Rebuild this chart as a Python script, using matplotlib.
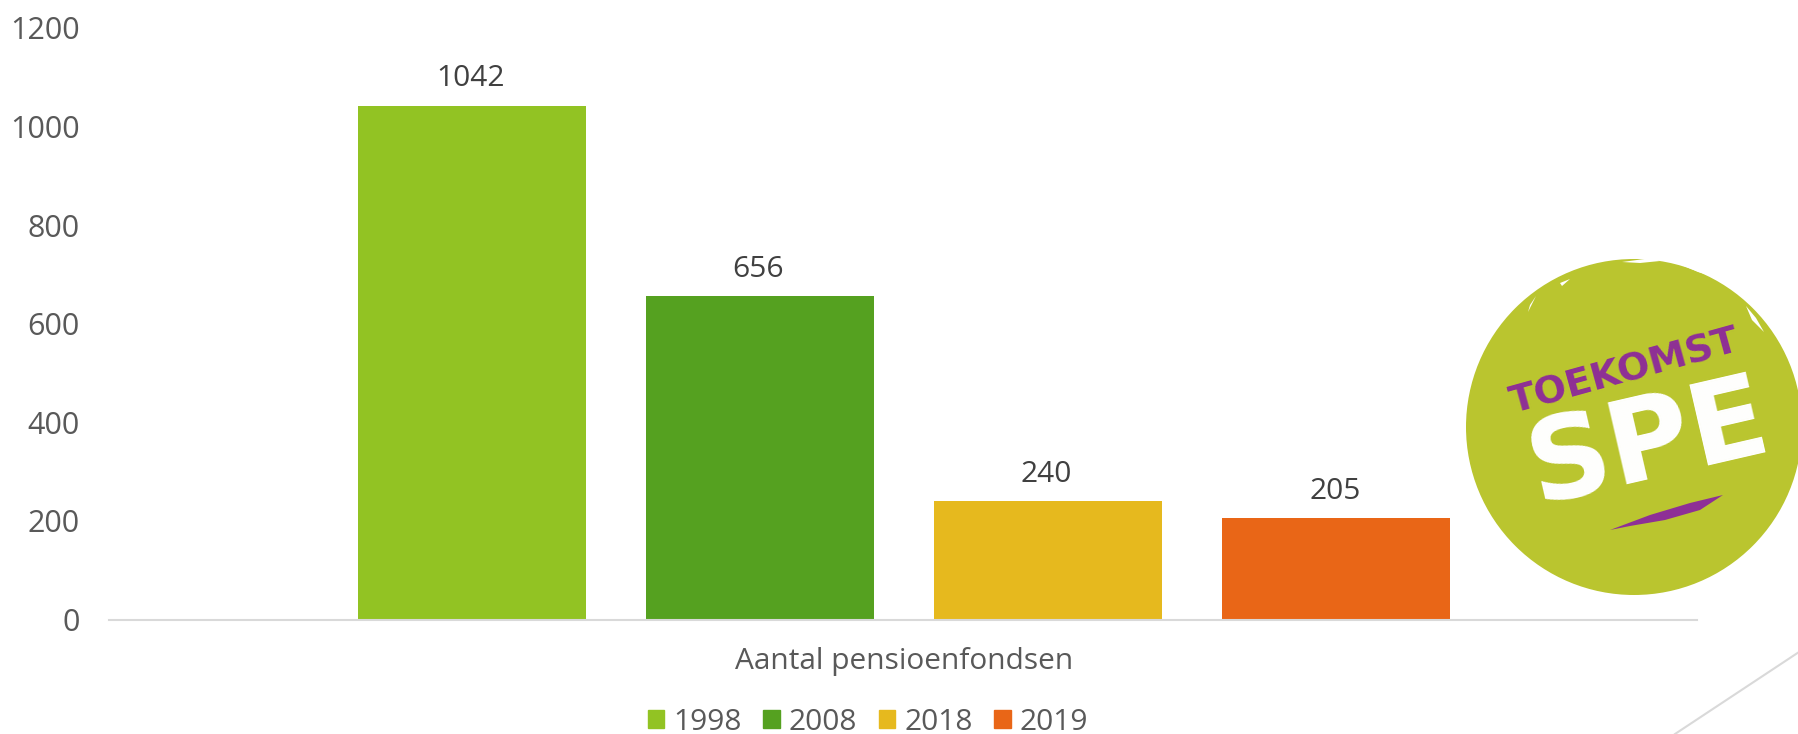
import matplotlib
matplotlib.use("Agg")
import matplotlib.pyplot as plt
from matplotlib.patches import Patch, Circle, Polygon

# Data
CATEGORY = "Aantal pensioenfondsen"
YEARS = ["1998", "2008", "2018", "2019"]
COUNTS = [1042, 656, 240, 205]
COLORS = ["#92C323", "#55A120", "#E6B91E", "#E96617"]
YTICKS = [0, 200, 400, 600, 800, 1000, 1200]

W, H = 1799, 734
BAR_W = 0.1434
STEP = 0.1812
GREY = "#595959"
LOGO = "#BAC52F"
PURPLE = "#8E2F96"

plt.rcParams["font.family"] = ["Open Sans", "DejaVu Sans"]

fig = plt.figure(figsize=(W / 100, H / 100), dpi=100)
ax = fig.add_axes([109 / W, (H - 619.5) / H, 1590 / W, 591.5 / H])

for i, (year, val, col) in enumerate(zip(YEARS, COUNTS, COLORS)):
    x = (i - 1.5) * STEP
    ax.bar(x, val, BAR_W, color=col, label=year)
    ax.annotate(str(val), (x, val), xytext=(-1, 9), textcoords="offset points",
                ha="center", va="bottom", fontsize=21.5, color="#404040")

ax.set_xlim(-0.5, 0.5)
ax.set_ylim(0, 1200)
ax.set_xticks([0])
ax.set_xticklabels([CATEGORY], fontsize=21.5, color=GREY)
ax.set_yticks(YTICKS)
ax.tick_params(axis="y", length=0, labelsize=22, labelcolor=GREY, pad=21)
ax.tick_params(axis="x", length=0, pad=20)
for lab in ax.get_yticklabels():
    lab.set_verticalalignment("center_baseline")
for side in ["top", "right", "left"]:
    ax.spines[side].set_visible(False)
ax.spines["bottom"].set_color("#D9D9D9")
ax.spines["bottom"].set_linewidth(1.5)
ax.spines["bottom"].set_bounds(-0.5, 0.4985)

handles = [Patch(color=c, label=y) for c, y in zip(COLORS, YEARS)]
fig.legend(handles=handles, loc="center", bbox_to_anchor=(868 / W, (H - 722) / H),
           ncol=4, frameon=False, fontsize=21.5, labelcolor=GREY, handlelength=0.56,
           handleheight=0.56, handletextpad=0.3, columnspacing=0.72, borderpad=0)

# Overlay in pixel coordinates for the logo sticker and the slide corner line
over = fig.add_axes([0, 0, 1, 1], facecolor="none")
over.set_xlim(0, W)
over.set_ylim(H, 0)
over.axis("off")
over.plot([1675, 1799], [734, 652], color="#D9D9D9", lw=1.5)

over.add_patch(Circle((1634, 427), 168, color=LOGO, lw=0))
for pts in [[(1622, 262), (1652, 258), (1660, 261), (1640, 263)],
            [(1672, 261), (1700, 268), (1722, 279), (1698, 272)],
            [(1746, 306), (1756, 318), (1764, 332), (1752, 320)],
            [(1560, 283), (1570, 279), (1562, 286)],
            [(1530, 305), (1536, 296), (1528, 312)]]:
    over.add_patch(Polygon(pts, color="white", lw=0))
over.add_patch(Polygon([(1610, 530), (1650, 515), (1690, 503), (1723, 495),
                        (1700, 510), (1665, 520), (1630, 526)], color=PURPLE, lw=0))
over.text(1625, 372, "TOEKOMST", rotation=15.5, rotation_mode="anchor", ha="center",
          va="center", fontsize=27.5, fontweight="bold", color=PURPLE, family="DejaVu Sans")
over.text(1649, 445, "SPE", rotation=13, rotation_mode="anchor", ha="center",
          va="center", fontsize=82, fontweight="bold", color="white", family="DejaVu Sans")

fig.savefig("out.png", dpi=100)
